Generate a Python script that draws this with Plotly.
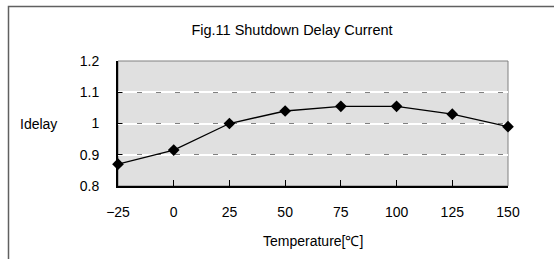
import plotly.graph_objects as go

temperature = [-25, 0, 25, 50, 75, 100, 125, 150]
idelay = [0.87, 0.915, 1.0, 1.04, 1.055, 1.055, 1.03, 0.99]
x_ticks = [-25, 0, 25, 50, 75, 100, 125, 150]
x_tick_labels = ["\u221225", "0", "25", "50", "75", "100", "125", "150"]
y_ticks = [0.8, 0.9, 1.0, 1.1, 1.2]
y_tick_labels = ["0.8", "0.9", "1", "1.1", "1.2"]

W, H = 554, 259
L, R, T, B = 118, 508, 61, 186
FONT = "Liberation Sans, Arial, sans-serif"

def px(x):
    return (x - L) / (R - L)

def py(y):
    return (B - y) / (B - T)

fig = go.Figure()
fig.add_trace(go.Scatter(
    x=temperature, y=idelay, mode="lines+markers",
    line=dict(color="black", width=1.3),
    marker=dict(symbol="diamond", size=9, color="black"),
    showlegend=False, cliponaxis=False,
))
# invisible trace for overlay grid axis
fig.add_trace(go.Scatter(x=temperature, y=idelay, yaxis="y2", mode="none",
                         showlegend=False, hoverinfo="skip"))

fig.update_layout(
    width=W, height=H,
    margin=dict(l=L, r=W - R, t=T, b=H - B, pad=0),
    paper_bgcolor="white", plot_bgcolor="#e0e0e0",
    font=dict(family=FONT, size=14, color="black"),
    title=dict(text="Fig.11 Shutdown Delay Current", x=px(292), xref="paper",
               xanchor="center", y=1 - 30 / H, yanchor="middle",
               font=dict(size=14.5, family=FONT)),
    xaxis=dict(range=[-25, 150], tickmode="array", tickvals=x_ticks,
               ticktext=x_tick_labels, showgrid=False, zeroline=False,
               ticks="inside", ticklen=6, tickcolor="black", tickwidth=1,
               showline=True, linecolor="black", linewidth=2,
               tickfont=dict(size=14), ticklabelstandoff=12),
    yaxis=dict(range=[0.8, 1.2], tickmode="array", tickvals=y_ticks,
               ticktext=y_tick_labels, showgrid=True, gridcolor="white",
               gridwidth=2, zeroline=False, ticks="inside", ticklen=4,
               tickcolor="black", showline=True, linecolor="black",
               linewidth=2, tickfont=dict(size=14), ticklabelstandoff=14),
    yaxis2=dict(range=[0.8, 1.2], overlaying="y", side="left",
                tickmode="array", tickvals=[0.9, 1.0, 1.1], showticklabels=False,
                showgrid=True, gridcolor="#808080", gridwidth=1,
                griddash="5px,14px", zeroline=False, showline=False, ticks=""),
    shapes=[
        dict(type="rect", xref="paper", yref="paper", x0=0, y0=0, x1=1, y1=1,
             line=dict(color="#808080", width=1), layer="below"),
        dict(type="rect", xref="paper", yref="paper", x0=px(8.5), y0=py(6.5),
             x1=px(580), y1=py(280), line=dict(color="#606060", width=1.5)),
    ],
    annotations=[
        dict(text="Idelay", xref="paper", yref="paper", x=px(18), y=py(124),
             xanchor="left", yanchor="middle", showarrow=False,
             font=dict(size=14, family=FONT)),
        dict(text="Temperature[\u2103]", xref="paper", yref="paper", x=px(313),
             y=py(241), xanchor="center", yanchor="middle", showarrow=False,
             font=dict(size=14, family=FONT)),
    ],
)
fig.write_html("out.html", config={"displayModeBar": False},
               post_script="document.body.style.margin='0';document.body.style.overflow='hidden';")
